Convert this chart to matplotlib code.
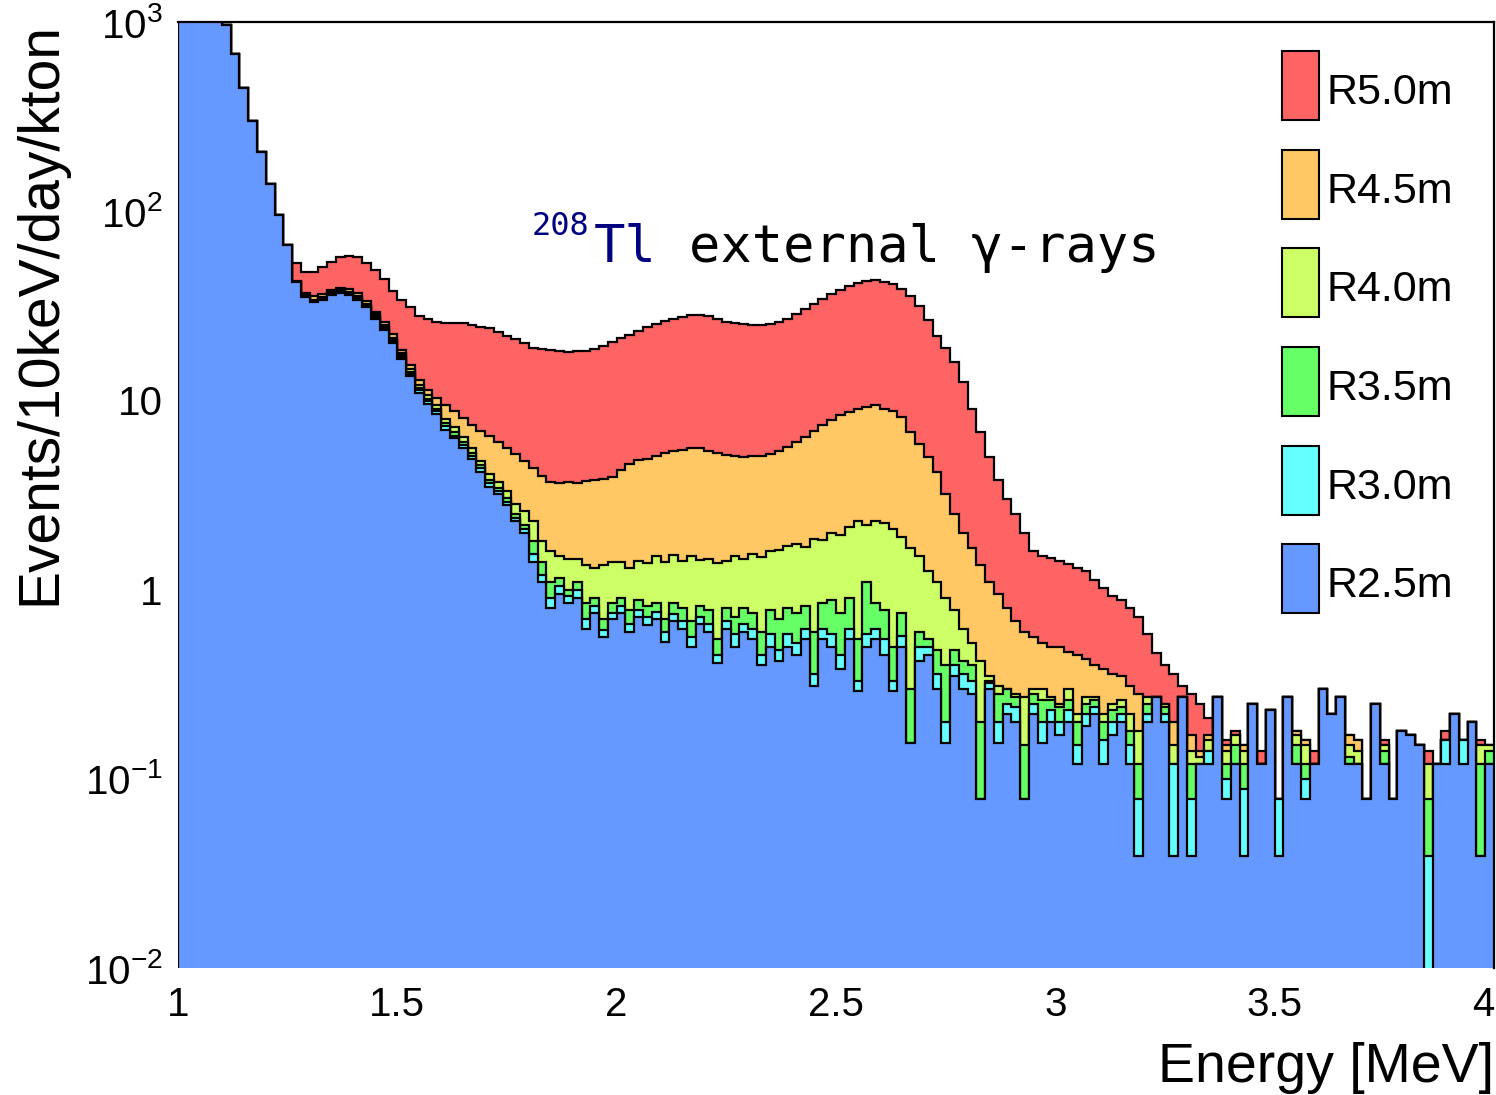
import numpy as np
import matplotlib
matplotlib.use("Agg")
import matplotlib.pyplot as plt
from matplotlib.patches import Rectangle
from matplotlib.ticker import NullLocator, FixedLocator, FixedFormatter

plt.rcParams["mathtext.fontset"] = "custom"
plt.rcParams["mathtext.rm"] = "Liberation Sans"
plt.rcParams["mathtext.it"] = "Liberation Sans:italic"
plt.rcParams["mathtext.bf"] = "Liberation Sans:bold"

# ---------------- data ----------------
E_MIN, E_MAX, BIN_W = 1.0, 4.0, 0.02

r25 = [7000, 4500, 3000, 2000, 1350, 960, 680, 450, 300, 205,
       140, 95, 66, 42, 35, 33, 34, 36, 37, 36,
       34, 31, 27, 23.5, 20, 16.5, 13.5, 11, 9.6, 8.5,
       7.0, 6.3, 5.6, 4.9, 4.2, 3.5, 3.2, 2.8, 2.3, 2.0,
       1.4, 1.1, 0.8, 0.95, 0.85, 0.9, 0.62, 0.75, 0.56, 0.7,
       0.75, 0.6, 0.72, 0.65, 0.7, 0.53, 0.68, 0.62, 0.5, 0.66,
       0.6, 0.41, 0.62, 0.5, 0.6, 0.55, 0.4, 0.5, 0.42, 0.5,
       0.45, 0.55, 0.31, 0.55, 0.5, 0.38, 0.55, 0.29, 0.5, 0.55,
       0.45, 0.29, 0.5, 0.155, 0.42, 0.45, 0.3, 0.155, 0.35, 0.3,
       0.28, 0.078, 0.3, 0.155, 0.22, 0.2, 0.078, 0.22, 0.155, 0.2,
       0.17, 0.2, 0.12, 0.19, 0.22, 0.12, 0.17, 0.2, 0.12, 0.039,
       0.2, 0.27, 0.2, 0.039, 0.27, 0.039, 0.12, 0.12, 0.27, 0.078,
       0.12, 0.039, 0.25, 0.12, 0.23, 0.039, 0.27, 0.12, 0.078, 0.12,
       0.3, 0.22, 0.27, 0.12, 0.12, 0.078, 0.25, 0.12, 0.078, 0.18,
       0.17, 0.15, 0.0, 0.12, 0.12, 0.22, 0.12, 0.2, 0.039, 0.12]

r30 = [7000, 4500, 3000, 2000, 1350, 960, 680, 450, 300, 205,
       140, 95, 66, 42, 35.3, 33.3, 34.4, 36.4, 37.4, 36.4,
       34.5, 31.5, 27.5, 24, 20.5, 16.9, 13.8, 11.3, 9.9, 8.75,
       7.3, 6.5, 5.8, 5.1, 4.4, 3.65, 3.3, 2.9, 2.4, 2.1,
       1.55, 1.2, 0.9, 1.05, 0.92, 1.0, 0.7, 0.82, 0.61, 0.75,
       0.82, 0.66, 0.78, 0.72, 0.76, 0.6, 0.74, 0.68, 0.56, 0.72,
       0.66, 0.45, 0.68, 0.58, 0.66, 0.62, 0.45, 0.58, 0.48, 0.58,
       0.52, 0.62, 0.36, 0.62, 0.58, 0.45, 0.62, 0.33, 0.58, 0.62,
       0.55, 0.33, 0.57, 0.155, 0.5, 0.5, 0.36, 0.2, 0.4, 0.36,
       0.33, 0.078, 0.32, 0.2, 0.25, 0.24, 0.078, 0.25, 0.2, 0.23,
       0.2, 0.23, 0.15, 0.22, 0.24, 0.16, 0.2, 0.22, 0.15, 0.078,
       0.22, 0.27, 0.22, 0.12, 0.27, 0.078, 0.12, 0.14, 0.27, 0.1,
       0.12, 0.088, 0.25, 0.12, 0.23, 0.078, 0.27, 0.12, 0.1, 0.12,
       0.3, 0.22, 0.27, 0.12, 0.12, 0.078, 0.25, 0.12, 0.078, 0.18,
       0.17, 0.15, 0.039, 0.12, 0.16, 0.22, 0.16, 0.2, 0.039, 0.12]

r35 = [7000, 4500, 3000, 2000, 1350, 960, 680, 450, 300, 205,
       140, 95, 66, 42, 35.6, 33.6, 34.8, 36.8, 37.8, 36.8,
       35, 32, 28, 24.5, 21, 17.3, 14.2, 11.6, 10.2, 9.0,
       7.6, 6.8, 6.0, 5.3, 4.55, 3.8, 3.45, 3.05, 2.5, 2.2,
       1.8, 1.4, 1.1, 1.15, 1.0, 1.1, 0.85, 0.9, 0.7, 0.85,
       0.9, 0.78, 0.88, 0.82, 0.85, 0.7, 0.85, 0.8, 0.68, 0.82,
       0.78, 0.55, 0.8, 0.72, 0.8, 0.75, 0.6, 0.78, 0.7, 0.8,
       0.75, 0.82, 0.6, 0.85, 0.88, 0.75, 0.9, 0.55, 1.1, 0.85,
       0.78, 0.5, 0.75, 0.3, 0.6, 0.55, 0.48, 0.4, 0.48, 0.42,
       0.4, 0.2, 0.33, 0.28, 0.3, 0.27, 0.15, 0.28, 0.26, 0.26,
       0.24, 0.26, 0.2, 0.25, 0.26, 0.2, 0.23, 0.24, 0.18, 0.12,
       0.25, 0.27, 0.24, 0.12, 0.27, 0.12, 0.12, 0.14, 0.27, 0.12,
       0.15, 0.12, 0.25, 0.12, 0.23, 0.078, 0.27, 0.15, 0.12, 0.12,
       0.3, 0.22, 0.27, 0.13, 0.12, 0.078, 0.25, 0.14, 0.078, 0.18,
       0.17, 0.15, 0.078, 0.12, 0.16, 0.22, 0.16, 0.2, 0.12, 0.14]

r40 = [7000, 4500, 3000, 2000, 1350, 960, 680, 450, 300, 205,
       140, 95, 66, 42.5, 36, 34, 35.2, 37.2, 38.2, 37.2,
       35.5, 32.5, 28.5, 25, 21.5, 17.8, 14.6, 12, 10.7, 9.4,
       8.0, 7.2, 6.4, 5.6, 4.8, 4.1, 3.7, 3.3, 2.85, 2.6,
       2.3, 1.8, 1.6, 1.5, 1.45, 1.45, 1.35, 1.3, 1.35, 1.4,
       1.4, 1.3, 1.42, 1.38, 1.5, 1.4, 1.52, 1.42, 1.5, 1.44,
       1.45, 1.38, 1.42, 1.5, 1.45, 1.55, 1.48, 1.6, 1.62, 1.7,
       1.75, 1.68, 1.85, 1.82, 2.0, 1.95, 2.15, 2.3, 2.2, 2.3,
       2.25, 2.1, 1.9, 1.65, 1.5, 1.25, 1.1, 0.9, 0.78, 0.62,
       0.52, 0.42, 0.35, 0.31, 0.3, 0.28, 0.27, 0.3, 0.3, 0.27,
       0.25, 0.3, 0.22, 0.27, 0.27, 0.22, 0.25, 0.26, 0.22, 0.18,
       0.27, 0.27, 0.25, 0.15, 0.27, 0.14, 0.13, 0.16, 0.27, 0.14,
       0.17, 0.14, 0.25, 0.12, 0.23, 0.078, 0.27, 0.17, 0.15, 0.12,
       0.3, 0.22, 0.27, 0.15, 0.14, 0.078, 0.25, 0.15, 0.078, 0.18,
       0.17, 0.15, 0.12, 0.12, 0.16, 0.22, 0.16, 0.2, 0.15, 0.15]

r45 = [7000, 4500, 3000, 2000, 1350, 960, 680, 450, 300, 205,
       140, 95, 66, 43, 37, 35.5, 36.5, 38.5, 39.5, 39,
       37, 33.5, 29.5, 26, 22.5, 18.5, 15.3, 12.8, 11.3, 10.3,
       9.5, 8.8, 8.1, 7.4, 6.9, 6.5, 6.0, 5.6, 5.2, 4.8,
       4.4, 4.0, 3.7, 3.65, 3.7, 3.65, 3.75, 3.8, 3.85, 3.95,
       4.3, 4.6, 4.85, 4.9, 5.1, 5.3, 5.4, 5.5, 5.6, 5.6,
       5.4, 5.3, 5.15, 5.1, 5.0, 5.1, 5.1, 5.2, 5.4, 5.7,
       6.0, 6.4, 6.9, 7.4, 7.9, 8.4, 8.7, 9.0, 9.2, 9.4,
       9.0, 8.8, 8.2, 6.8, 5.9, 5.0, 4.2, 3.2, 2.5, 2.0,
       1.65, 1.35, 1.1, 0.95, 0.8, 0.68, 0.6, 0.56, 0.52, 0.5,
       0.5, 0.47, 0.45, 0.43, 0.4, 0.38, 0.36, 0.35, 0.31, 0.28,
       0.27, 0.27, 0.25, 0.2, 0.27, 0.17, 0.14, 0.17, 0.27, 0.15,
       0.17, 0.15, 0.25, 0.12, 0.23, 0.078, 0.27, 0.18, 0.16, 0.12,
       0.3, 0.22, 0.27, 0.17, 0.16, 0.078, 0.25, 0.15, 0.078, 0.18,
       0.17, 0.15, 0.12, 0.12, 0.16, 0.22, 0.16, 0.2, 0.15, 0.15]

r50 = [7000, 4500, 3000, 2000, 1350, 960, 680, 450, 300, 205,
       140, 95, 66, 53, 48, 48, 51, 54, 57, 58,
       57, 53, 49, 44, 38, 34, 31, 28, 27, 26,
       25.6, 25.6, 25.5, 25, 24.3, 24, 23, 22, 21, 20,
       19, 18.6, 18.5, 18.2, 18.0, 18.2, 18.3, 18.7, 19.3, 20.3,
       21.3, 22.2, 23.3, 24.4, 25.3, 26.2, 27, 27.7, 28.3, 28.3,
       28, 27, 26, 25.5, 25.2, 25, 25, 25.3, 26, 27,
       28.5, 30.5, 32.5, 34.5, 36.5, 38.5, 40, 41.5, 43, 43.5,
       42.5, 41, 39, 35.5, 31.5, 26.5, 22, 19, 16, 12.5,
       9.0, 6.8, 5.0, 3.8, 3.0, 2.5, 2.0, 1.6, 1.5, 1.47,
       1.42, 1.37, 1.3, 1.25, 1.12, 1.02, 0.93, 0.88, 0.8, 0.72,
       0.58, 0.46, 0.4, 0.36, 0.31, 0.28, 0.25, 0.21, 0.27, 0.16,
       0.18, 0.15, 0.25, 0.14, 0.23, 0.078, 0.27, 0.18, 0.16, 0.14,
       0.3, 0.22, 0.27, 0.17, 0.16, 0.078, 0.25, 0.16, 0.078, 0.18,
       0.17, 0.15, 0.14, 0.12, 0.18, 0.22, 0.16, 0.2, 0.16, 0.15]

labels = ["R5.0m", "R4.5m", "R4.0m", "R3.5m", "R3.0m", "R2.5m"]
series = [r50, r45, r40, r35, r30, r25]
colors = ["#FF6464", "#FFC864", "#CCFF66", "#66FF66", "#66FFFF", "#6699FF"]

x_ticks = [1, 1.5, 2, 2.5, 3, 3.5, 4]
x_tick_labels = ["1", "1.5", "2", "2.5", "3", "3.5", "4"]
y_ticks = [1e-2, 1e-1, 1, 10, 1e2, 1e3]
y_tick_labels = [r"$\mathregular{10^{-2}}$", r"$\mathregular{10^{-1}}$", "1", "10",
                 r"$\mathregular{10^{2}}$", r"$\mathregular{10^{3}}$"]

# ---------------- figure ----------------
W, H = 1496, 1095
fig = plt.figure(figsize=(W / 100, H / 100), dpi=100)
fig.patch.set_facecolor("white")

def fx(px):
    return px / W

def fy(py):
    return 1 - py / H

ax = fig.add_axes([fx(178), fy(968), fx(1494) - fx(178), fy(22) - fy(968)])
ax.set_yscale("log")
ax.set_xlim(1, 4)
ax.set_ylim(1e-2, 1e3)

n_bins = len(r25)
edges = E_MIN + BIN_W * np.arange(n_bins + 1)
FLOOR = 1e-4
for i, (vals, col) in enumerate(zip(series, colors)):
    v = np.asarray(vals, dtype=float)
    v = np.where(v > 0, v, FLOOR)
    z = 2 + i
    ax.stairs(v, edges, baseline=FLOOR, fill=True, facecolor=col,
              edgecolor="none", zorder=z)
    ax.stairs(v, edges, baseline=FLOOR, fill=False, color="black",
              lw=1.6, zorder=z + 0.5)

for s in ["left", "bottom"]:
    ax.spines[s].set_visible(False)
ax.spines["top"].set_linewidth(1.6)
ax.spines["top"].set_zorder(20)
ax.spines["right"].set_linewidth(1.6)
ax.spines["right"].set_zorder(1)

ax.xaxis.set_major_locator(FixedLocator(x_ticks))
ax.xaxis.set_major_formatter(FixedFormatter(x_tick_labels))
ax.xaxis.set_minor_locator(NullLocator())
ax.yaxis.set_major_locator(FixedLocator(y_ticks))
ax.yaxis.set_major_formatter(FixedFormatter(y_tick_labels))
ax.yaxis.set_minor_locator(NullLocator())
ax.tick_params(axis="both", length=0)
ax.tick_params(axis="x", pad=13)
ax.tick_params(axis="y", pad=11)
for lab in ax.get_xticklabels() + ax.get_yticklabels():
    lab.set_fontfamily("Liberation Sans")
    lab.set_fontsize(29)
xl = ax.get_xticklabels()
xl[-1].set_horizontalalignment("right")

# axis titles
fig.text(fx(40), fy(22), "Events/10keV/day/kton", rotation=90, ha="center",
         va="top", fontsize=41, family="Liberation Sans")
fig.text(fx(1494), fy(1082), "Energy [MeV]", ha="right", va="baseline",
         fontsize=40, family="Liberation Sans")

# annotation
fig.text(fx(532), fy(235), "208", ha="left", va="baseline", fontsize=23,
         family="DejaVu Sans Mono", color="#000080")
fig.text(fx(594), fy(262), "Tl", ha="left", va="baseline", fontsize=37.5,
         family="DejaVu Sans Mono", color="#000080")
fig.text(fx(689), fy(262), "external \u03b3-rays", ha="left", va="baseline",
         fontsize=37.5, family="DejaVu Sans Mono", color="black")

# legend (manual)
box_tops = [51, 150, 248, 347, 446, 544]
for lab, col, top in zip(labels, colors, box_tops):
    rect = Rectangle((fx(1282), fy(top + 69)), fx(1319) - fx(1282),
                     fy(top) - fy(top + 69), transform=fig.transFigure,
                     facecolor=col, edgecolor="black", lw=1.5, zorder=30)
    fig.patches.append(rect)
    fig.text(fx(1327), fy(top + 53), lab, ha="left", va="baseline",
             fontsize=31, family="Liberation Sans", zorder=31)

fig.savefig("out.png", dpi=100, facecolor="white")
